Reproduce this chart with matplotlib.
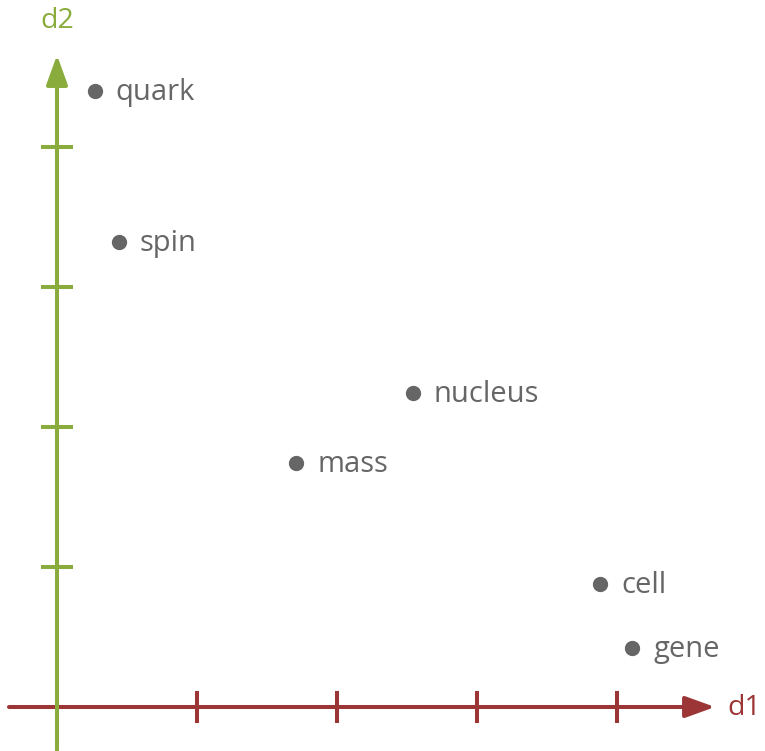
import matplotlib.pyplot as plt
from matplotlib.patches import FancyArrowPatch

# data
words = ['quark', 'spin', 'nucleus', 'mass', 'cell', 'gene']
d1 = [0.27, 0.44, 2.54, 1.71, 3.88, 4.11]
d2 = [4.40, 3.32, 2.24, 1.74, 0.88, 0.42]
ticks = [1, 2, 3, 4]

GREEN = '#8aac3c'
RED = '#9c3535'
GRAY = '#666666'
FONT = 'Open Sans'

fig = plt.figure(figsize=(7.65, 7.51), dpi=100)
ax = fig.add_axes([0, 0, 1, 1])
ax.set_xlim(-57 / 140, (765 - 57) / 140)
ax.set_ylim((707 - 751) / 140, 707 / 140)
ax.axis('off')

lw = 2.9

# axes with arrow heads
xarr = FancyArrowPatch((-0.343, 0), (4.70, 0), arrowstyle='-|>,head_length=1.8,head_width=0.65',
                       mutation_scale=10, color=RED, lw=lw, shrinkA=0, shrinkB=0, zorder=2)
yarr = FancyArrowPatch((0, -0.31), (0, 4.657), arrowstyle='-|>,head_length=1.8,head_width=0.65',
                       mutation_scale=10, color=GREEN, lw=lw, shrinkA=0, shrinkB=0, zorder=3)
ax.add_patch(xarr)
ax.add_patch(yarr)

# tick marks
ax.plot(ticks, [0] * len(ticks), ls='none', marker='|', ms=23, mew=lw, color=RED, zorder=2)
ax.plot([0] * len(ticks), ticks, ls='none', marker='_', ms=23, mew=lw, color=GREEN, zorder=3)

ax.text(4.785, -0.01, 'd1', color=RED, fontsize=20.5, family=FONT, ha='left', va='center')
ax.text(0, 4.9, 'd2', color=GREEN, fontsize=20.5, family=FONT, ha='center', va='center')

# points
ax.plot(d1, d2, ls='none', marker='o', ms=10, color=GRAY, zorder=4)
for w, x, y in zip(words, d1, d2):
    ax.annotate(w, (x, y), xytext=(15, -1), textcoords='offset points',
                color=GRAY, fontsize=21, family=FONT, ha='left', va='center')

fig.savefig('out.png', dpi=100)
